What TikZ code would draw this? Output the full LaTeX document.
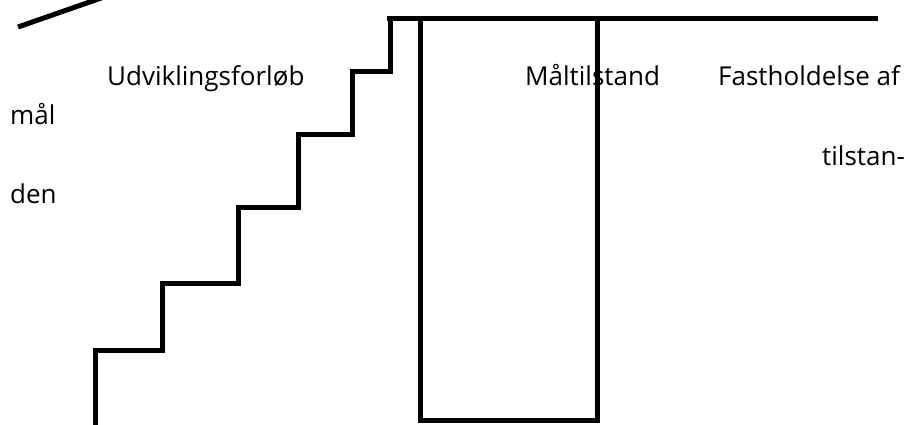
\documentclass[tikz,border=0pt]{standalone}
\usepackage{fontspec}
\setmainfont{Open Sans}
\usetikzlibrary{positioning}

\begin{document}
\begin{tikzpicture}[
    x=1pt,
    y=-1pt,
    font=\fontsize{26}{31}\selectfont,
    thick line/.style={
		line width=5pt,
		line join=miter,
		draw=black
	},
	label/.style={
		anchor=base west,
		inner sep=0pt
	}
  ]
  \useasboundingbox (0,0) rectangle (920,424);

    % We start by placing the lines

  \draw [thick line] (18,27) -- (104,-3);

  % the stair up to the target
  \draw [thick line] (95,426) -- (95,350) -- (162,350) -- (162,283)
    -- (238,283) -- (238,207) -- (298,207) -- (298,134)
    -- (352,134) -- (352,71) -- (390,71) -- (390,20);
  \draw [thick line] (387,18) -- (878,18);

  % the box below the target
  \draw [thick line] (420,18) -- (420,420) -- (597,420) -- (597,18);

  % then the texts
  \node [label] (udvikling) at (107,85) {Udviklingsforløb};
  \node [label] (maal) at (10,124) {mål};
  \node [label] (den) at (10,203) {den};
  \node [label] (maaltilstand) at (525,85) {Måltilstand};
  \node [label] (fasthold) at (718,85) {Fastholdelse af};
  \node [label] (tilstan) at (822,165) {tilstan-};

\end{tikzpicture}
\end{document}
